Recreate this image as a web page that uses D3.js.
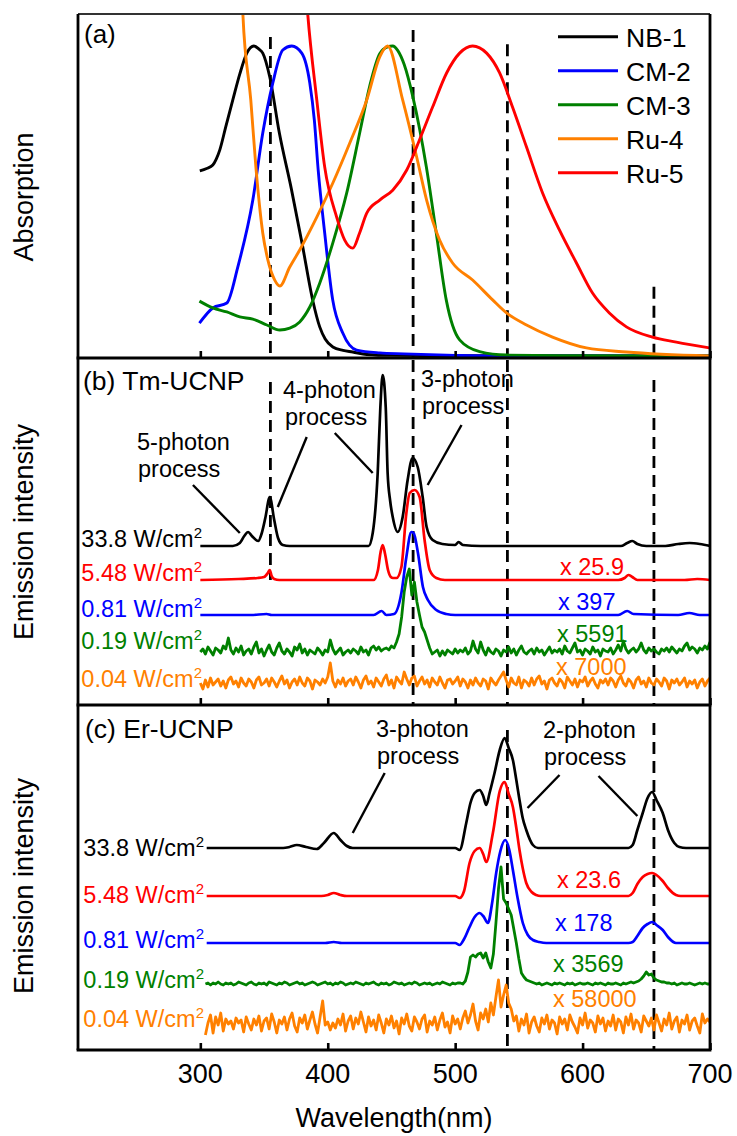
<!DOCTYPE html>
<html>
<head>
<meta charset="utf-8">
<script src="https://cdn.jsdelivr.net/npm/d3@7"></script>
<style>
body { margin: 0; background: #fff; }
text { font-family: "Liberation Sans", Arial, sans-serif; }
</style>
</head>
<body>
<svg id="chart" width="737" height="1136"></svg>
<script>
// ---- data ----
const xTicks = [300, 400, 500, 600, 700];
const dashWavelengths = [355, 467, 541, 656];

// (a) absorption, normalised
const absorbNames = ["NB-1", "CM-2", "CM-3", "Ru-4", "Ru-5"];
const absorbColors = ["#000000", "#0000ff", "#008000", "#ff8000", "#ff0000"];
const nb1 = [[299.6,0.597],[305,0.605],[309.8,0.616],[312.5,0.635],[315.3,0.665],[320,0.74],[325.5,0.826],[331,0.91],[336.5,0.977],[342,1.0],[346,0.99],[349,0.977],[354.5,0.90],[362,0.72],[371.4,0.54],[380,0.36],[388.2,0.18],[393.7,0.094],[398,0.055],[404,0.029],[412,0.018],[419.6,0.013],[430.6,0.005],[450,0.002],[500,0.001],[700,0]];
const cm2 = [[299.3,0.106],[309.8,0.155],[320.8,0.171],[329.4,0.287],[341.2,0.503],[349,0.719],[356.9,0.881],[364.7,0.987],[371.8,1.0],[379.6,0.977],[385.9,0.881],[389.5,0.76],[392.5,0.60],[397.6,0.397],[403.9,0.181],[411.8,0.074],[422.7,0.019],[440.8,0.01],[460,0.007],[500,0.002],[529,0],[700,0]];
const cm3 = [[299.3,0.177],[309.8,0.155],[320.8,0.142],[331,0.126],[341.2,0.119],[352.2,0.1],[362.4,0.084],[370.2,0.09],[378,0.11],[385.9,0.158],[393.7,0.235],[404,0.365],[414.9,0.526],[425.1,0.72],[432.9,0.87],[440.8,0.975],[447,0.997],[451,1.0],[455,0.985],[460,0.94],[466.8,0.836],[477.4,0.61],[485.2,0.396],[493,0.181],[503.5,0.052],[519.2,0.014],[540.3,0.003],[600,0.001],[700,0]];
const ru4 = [[332.5,1.2],[333.4,1.103],[339.6,0.826],[343.6,0.61],[349,0.397],[353,0.31],[358.4,0.245],[362.4,0.226],[370.2,0.287],[378,0.342],[391.4,0.448],[404,0.558],[417.3,0.687],[430.6,0.826],[440.8,0.965],[447,1.0],[458.8,0.826],[469.8,0.642],[477.6,0.503],[487.8,0.374],[498,0.3],[513.7,0.245],[529.4,0.181],[540.3,0.139],[556,0.1],[576.4,0.061],[603,0.026],[634.4,0.013],[699.5,0.0]];
const ru5 = [[382.5,1.2],[384.3,1.103],[391.4,0.826],[397.6,0.61],[407,0.448],[413.3,0.374],[419.6,0.348],[425,0.397],[430.6,0.461],[440.8,0.503],[451,0.535],[462,0.6],[472,0.697],[482.3,0.803],[493.3,0.913],[503.5,0.977],[513.7,1.0],[524.7,0.977],[534.9,0.913],[545,0.803],[556,0.674],[568.6,0.526],[581.9,0.406],[595.2,0.3],[607.8,0.203],[621,0.139],[634.4,0.094],[654.8,0.061],[673.6,0.045],[699.5,0.026]];
const absorbSeries = [nb1, cm2, cm3, ru4, ru5];

// (b) Tm-UCNP emission, heights above each trace's baseline
const powerLabels = ["33.8 W/cm", "5.48 W/cm", "0.81 W/cm", "0.19 W/cm", "0.04 W/cm"];
const powerColors = ["#000000", "#ff0000", "#0000ff", "#008000", "#ff8000"];
const tmFactors = ["", "x 25.9", "x 397", "x 5591", "x 7000"];
const tmOffsets = [159, 125, 90, 53, 22];
const tm338 = [[300,0],[325.5,0],[331,3],[334.5,10],[337.5,14],[340.5,10],[345.4,5],[348,12],[351,28],[354.5,49],[358,26],[361,8],[364.7,1],[370,0],[432,0],[435.3,13],[439.2,73],[441.3,139],[443.1,171],[445.5,139],[447,73],[449,45],[451,29],[454.9,14],[458.8,29],[462.7,66],[466.6,88],[470.6,79],[474.5,49],[477.6,19],[482.3,6],[490,2],[500,1],[502.7,4],[506,1],[520,0],[630,0],[635,3],[639,5],[643,2],[650,0],[665,0],[675,2],[684,3],[692,2],[700,0]];
const tm548 = [[300,0],[330,1],[345,2],[350,3],[353,7],[354.5,10],[356,4],[358,1],[362,0],[436,0],[439.4,10],[441.5,28],[443.1,35],[445,26],[447.3,10],[449.5,3],[451.2,2],[454,2],[457.8,13],[461.7,67],[464.3,87],[468.2,90],[472.1,83],[476,40],[480,10],[485.2,2],[492,0],[628,0],[633,2],[636,5],[639,3],[643,0],[680,0],[690,1],[700,0]];
const tm081 = [[300,0],[340,0],[352,1],[356,0],[436,0],[442.3,4],[446,0],[452,1],[457.8,22],[461.7,58],[465.6,83],[467.4,82],[470.8,62],[474.7,28],[478.6,15],[485.2,5],[493,1],[500,0],[628,0],[635,4],[640,1],[675,0],[683.8,2],[692,0],[700,0]];
const tm019 = [0,3,-2,5,1,-3,4,2,-1,6,
  3,14,2,-2,4,0,6,-3,1,3,
  -2,5,10,-1,3,-4,2,7,0,-3,
  4,9,1,-2,3,0,-4,5,2,8,
  -1,3,-3,2,0,-2,4,1,-3,2,
  0,12,3,-2,1,4,-3,0,2,-1,
  3,1,-2,5,0,2,-3,4,6,2,
  5,1,3,4,2,6,4,10,18,35,
  60,75,83,57,70,50,37,25,20,12,
  4,-2,0,2,-4,1,-3,2,0,-2,
  3,-1,2,0,4,-2,1,11,3,-1,
  10,2,-3,4,0,-2,3,1,-4,2,
  0,5,-1,3,-3,2,6,0,-2,1,
  3,-2,4,0,2,-3,1,5,-1,2,
  0,3,-2,6,1,-1,4,9,0,2,
  -3,3,1,-2,5,0,2,-4,3,1,
  0,4,-2,2,7,1,11,3,-1,2,
  4,0,3,9,2,-1,4,1,3,0,
  -2,3,1,4,0,5,2,-1,3,1,
  6,9,2,5,3,-1,4,2,6,3,
  10];
const tm004 = [0,-6,3,-4,5,-2,1,4,-3,2,
  -5,3,6,-1,2,-4,5,0,-3,4,
  1,-5,3,6,-2,0,4,-3,5,1,
  -4,2,7,-1,3,-5,1,4,-2,6,
  0,-3,5,2,-6,3,1,-2,4,0,
  6,20,2,-4,3,-1,5,-3,2,4,
  -2,6,1,-5,3,7,-1,2,-4,5,
  1,-3,4,8,-2,3,-5,6,2,-1,
  11,4,-2,5,7,-3,2,6,-1,3,
  -4,5,1,-2,6,0,-5,3,4,-1,
  2,6,-3,4,1,-5,3,-2,5,0,
  -3,4,2,-6,5,1,-2,3,7,11,
  3,-4,5,0,-2,6,-5,3,1,-3,
  5,-2,4,7,-1,2,-6,3,5,0,
  -3,4,1,-5,6,2,-2,4,-4,3,
  1,6,-3,2,5,-1,-5,3,0,4,
  -2,5,2,-4,3,7,0,-3,4,1,
  -5,3,6,-1,2,-4,5,0,-2,4,
  1,-3,5,2,-6,3,0,4,-2,1,
  5,-4,2,-1,3,-5,1,4,-3,2,
  5];

// (c) Er-UCNP emission
const erFactors = ["", "x 23.6", "x 178", "x 3569", "x 58000"];
const erOffsets = [202, 154, 107, 66, 23];
const er338 = [[305,0],[365,0],[370,1],[375.7,3],[383,1],[391.4,-1],[397,5],[404.7,15],[410,8],[415,2],[419.6,0],[500,0],[503.5,-2],[508.7,25],[512,45],[515.3,55],[519.2,58],[522,52],[524.4,43],[527,55],[530.9,75],[535,98],[538.8,110],[542,100],[545.3,88],[548,68],[550.5,48],[553,30],[555.8,18],[561,3],[565,0],[636,0],[639.3,3],[643,18],[647.2,35],[651,50],[654.6,56],[658,48],[662.9,35],[667,18],[672,5],[676,1],[681.2,0],[700,0]];
const er548 = [[305,0],[395,0],[400,1],[404.7,3],[410,1],[415,0],[500,0],[503.5,-2],[507,5],[511.3,33],[515.3,45],[519.2,48],[522,42],[524.4,34],[529.6,63],[535,105],[538.8,114],[542,102],[545.3,89],[548,68],[550.5,46],[553,28],[555.8,13],[560,4],[563.6,1],[567,0],[636,0],[639.3,3],[643,12],[647.2,19],[651,22],[654.6,23],[658,21],[662.9,15],[667,8],[673.3,1],[677,0],[700,0]];
const er081 = [[305,0],[398,0],[404.7,1],[411,0],[500,0],[503.5,-2],[507,4],[511.3,16],[515.3,26],[519.2,30],[522,27],[525.7,20],[529,40],[532.2,70],[535.5,92],[539.3,103],[542.5,93],[545.3,73],[549,45],[553.1,20],[557,8],[561,3],[566,1],[571.5,0],[636,0],[639.3,1],[643,7],[647.2,15],[651,19],[654.6,21],[658,18],[662.9,13],[667,6],[673.3,0],[700,0]];
const er019 = [0,1,-1,1,0,2,0,-1,1,0,
  1,-1,0,2,1,0,-1,1,2,0,
  -1,1,0,1,-1,2,1,0,-1,1,
  0,2,1,-1,0,1,2,0,1,-1,
  0,1,2,1,-1,0,1,2,0,1,
  -1,1,0,2,1,-1,0,1,0,2,
  1,0,-1,1,0,1,2,0,-1,1,
  0,1,-1,0,2,1,0,1,-1,0,
  1,0,2,1,-1,0,1,0,1,-1,
  0,1,0,2,1,0,-1,1,0,1,
  1,0,3,12,27,29,27,30,31,26,
  31,22,16,30,61,95,117,85,81,75,
  69,55,41,25,11,7,4,3,2,1,
  0,1,-1,0,1,0,-1,1,0,1,
  0,-1,1,0,1,-1,0,1,0,0,
  1,0,-1,1,0,1,0,-1,1,0,
  0,1,0,-1,1,0,1,2,1,2,
  3,5,8,12,9,10,6,4,3,2,
  2,1,1,0,1,-1,0,1,0,0,
  1,0,-1,0,1,0,1,0,0];
const er004 = [-8,4,12,-6,10,2,14,-4,8,3,
  6,-2,9,4,7,-5,10,3,-3,8,
  2,11,-4,6,9,-2,13,5,-6,7,
  3,10,-3,8,14,1,-5,9,4,12,
  -2,7,15,3,-6,10,26,2,5,-3,
  4,-1,8,2,13,-4,6,11,-2,9,
  3,15,5,-5,10,1,7,-3,12,4,
  -6,8,2,11,-1,6,-7,9,3,13,
  1,-4,10,5,-2,8,12,-5,6,2,
  10,-3,7,14,0,5,-6,11,3,8,
  -2,9,16,4,12,23,6,-3,14,8,
  18,5,24,12,30,47,20,32,42,24,
  18,6,11,-4,8,2,13,-6,5,10,
  1,-5,9,3,12,-2,7,4,-7,10,
  3,8,-3,12,5,0,-6,9,2,14,
  -1,7,4,-5,11,3,9,-4,6,1,
  12,-3,8,5,-6,10,2,13,-2,7,
  4,-5,11,6,1,9,-3,12,4,-4,
  8,2,14,-2,6,10,-5,7,3,12,
  -3,6,9,1,-6,13,4,8,5];

// ---- layout ----
const svg = d3.select("#chart");
const left = 78, right = 710;
const aTop = 14, aBot = 358, bBot = 705, cBot = 1050;

const x = d3.scaleLinear().domain([204, 700]).range([left, right]);
const yA = d3.scaleLinear().domain([0, 1]).range([356, 46]);
const yB = d3.scaleLinear().domain([0, 345]).range([bBot, 360]);
const yC = d3.scaleLinear().domain([0, 344]).range([cBot, 706]);

const defs = svg.append("defs");
[["clipA", aTop, aBot], ["clipB", aBot, bBot], ["clipC", bBot, cBot]].forEach(([id, t, b]) => {
  defs.append("clipPath").attr("id", id).append("rect")
    .attr("x", left).attr("y", t).attr("width", right - left).attr("height", b - t);
});

function gridPairs(start, vals) {
  return vals.map((v, i) => [start + 2 * i, v]);
}

// ---- dashed reference lines (wavelength, top, bottom in panel units) ----
const dashA = [[355, 1.029, -0.006], [467, 1.052, -0.006], [541, 1.006, -0.006], [656, 0.223, -0.006]];
const dashB = [[355, 323, 125], [467, 345, 0], [541, 345, 0], [656, 325, 0]];
const dashC = [[541, 320, 0], [656, 327, 0]];
function drawDash(list, yS) {
  svg.append("g").selectAll("line").data(list).join("line")
    .attr("x1", d => x(d[0])).attr("x2", d => x(d[0]))
    .attr("y1", d => yS(d[1])).attr("y2", d => yS(d[2]))
    .attr("stroke", "#000").attr("stroke-width", 2.8)
    .attr("stroke-dasharray", "12,7");
}
drawDash(dashA, yA);
drawDash(dashB, yB);
drawDash(dashC, yC);

// ---- panel a ----
const lineA = d3.line().x(d => x(d[0])).y(d => yA(d[1])).curve(d3.curveMonotoneX);
svg.append("g").attr("clip-path", "url(#clipA)")
  .selectAll("path").data(absorbSeries).join("path")
  .attr("d", lineA)
  .attr("fill", "none")
  .attr("stroke", (d, i) => absorbColors[i])
  .attr("stroke-width", 2.9);

const legend = svg.append("g");
absorbNames.forEach((name, i) => {
  const ly = 36.7 + i * 34;
  legend.append("line").attr("x1", 558).attr("x2", 618).attr("y1", ly).attr("y2", ly)
    .attr("stroke", absorbColors[i]).attr("stroke-width", 2.9);
  legend.append("text").attr("x", 626).attr("y", ly + 10)
    .attr("font-size", 26.5).text(name);
});

// ---- emission panels ----
function drawEmission(series, offsets, yS, clip, smooth) {
  const g = svg.append("g").attr("clip-path", `url(#${clip})`);
  series.forEach((s, i) => {
    const line = d3.line().x(d => x(d[0])).y(d => yS(d[1] + offsets[i]))
      .curve(smooth[i] ? d3.curveMonotoneX : d3.curveLinear);
    g.append("path").attr("d", line(s))
      .attr("fill", "none").attr("stroke", powerColors[i])
      .attr("stroke-width", smooth[i] ? 2.7 : 2.8).attr("stroke-linejoin", "round");
  });
}
drawEmission([tm338, tm548, tm081, gridPairs(300, tm019), gridPairs(300, tm004)],
  tmOffsets, yB, "clipB", [true, true, true, false, false]);
drawEmission([er338, er548, er081, gridPairs(304, er019), gridPairs(304, er004)],
  erOffsets, yC, "clipC", [true, true, true, false, false]);

// power labels
function powerText(baselines, xEnd) {
  baselines.forEach((by, i) => {
    const t = svg.append("text").attr("x", xEnd).attr("y", by)
      .attr("text-anchor", "end").attr("font-size", 23.5)
      .attr("fill", powerColors[i]);
    t.append("tspan").text(powerLabels[i]);
    t.append("tspan").attr("font-size", 15).attr("dy", -9.5).text("2");
  });
}
powerText([547, 581, 617, 649, 687], 202);
powerText([856, 903, 948, 988, 1027], 204);

function factorText(list, pos) {
  list.forEach((s, i) => {
    if (!s) return;
    svg.append("text").attr("x", pos[i][0]).attr("y", pos[i][1])
      .attr("font-size", 23.5).attr("fill", powerColors[i]).text(s);
  });
}
factorText(tmFactors, [null, [560, 575], [558, 610], [557, 642], [556, 675]]);
factorText(erFactors, [null, [557, 888], [555, 931], [553, 972], [553, 1007]]);

// annotations
const notes = [
  ["5-photon", 137, 450], ["process", 138, 477],
  ["4-photon", 283, 398], ["process", 285, 425],
  ["3-photon", 421, 387], ["process", 422, 414],
  ["3-photon", 376, 737], ["process", 377, 764],
  ["2-photon", 543, 738], ["process", 544, 765]
];
svg.append("g").selectAll("text").data(notes).join("text")
  .attr("x", d => d[1]).attr("y", d => d[2])
  .attr("font-size", 23.5).text(d => d[0]);

const leadersB = [[[294.2, 220], [331, 172]], [[383.5, 268], [360.8, 198]],
  [[405.5, 272], [435.3, 232]], [[505, 280], [478.4, 220]]];
const leadersC = [[[444.7, 277], [419.6, 217]], [[581.9, 275], [556.8, 242]],
  [[612.5, 274], [643, 234]]];
[[leadersB, yB], [leadersC, yC]].forEach(([list, yS]) => {
  svg.append("g").selectAll("line").data(list).join("line")
    .attr("x1", d => x(d[0][0])).attr("y1", d => yS(d[0][1]))
    .attr("x2", d => x(d[1][0])).attr("y2", d => yS(d[1][1]))
    .attr("stroke", "#000").attr("stroke-width", 2.4);
});

// panel labels
svg.append("text").attr("x", 84).attr("y", 43).attr("font-size", 26).text("(a)");
svg.append("text").attr("x", 83).attr("y", 390).attr("font-size", 26.5).text("(b) Tm-UCNP");
svg.append("text").attr("x", 85).attr("y", 738).attr("font-size", 26.5).text("(c) Er-UCNP");

// ---- axes / frame ----
[aBot, bBot, cBot].forEach(b => {
  const ax = svg.append("g").attr("transform", `translate(0,${b})`)
    .call(d3.axisBottom(x).tickValues(xTicks).tickSizeInner(-7).tickSizeOuter(0).tickFormat(""));
  ax.select(".domain").remove();
  ax.selectAll("line").attr("stroke-width", 2.6);
});
svg.append("g").selectAll("text").data(xTicks).join("text")
  .attr("x", d => x(d)).attr("y", 1083)
  .attr("text-anchor", "middle").attr("font-size", 27).text(d => d);

svg.append("text").attr("x", 394).attr("y", 1127).attr("text-anchor", "middle")
  .attr("font-size", 27).text("Wavelength(nm)");

[["Absorption", 197], ["Emission intensity", 532], ["Emission intensity", 886]].forEach(([s, cy]) => {
  svg.append("text").attr("transform", `translate(33,${cy}) rotate(-90)`)
    .attr("text-anchor", "middle").attr("font-size", 27).text(s);
});

const frame = svg.append("g").attr("stroke", "#000").attr("stroke-width", 2.8);
frame.append("line").attr("x1", left).attr("x2", right).attr("y1", aTop).attr("y2", aTop)
  .attr("stroke", "#333").attr("stroke-width", 2);
frame.append("line").attr("x1", left).attr("x2", left).attr("y1", aTop).attr("y2", cBot);
frame.append("line").attr("x1", right).attr("x2", right).attr("y1", aTop).attr("y2", cBot);
[aBot, bBot, cBot].forEach(b => {
  frame.append("line").attr("x1", left - 1.4).attr("x2", right + 1.4).attr("y1", b).attr("y2", b);
});
</script>
</body>
</html>
